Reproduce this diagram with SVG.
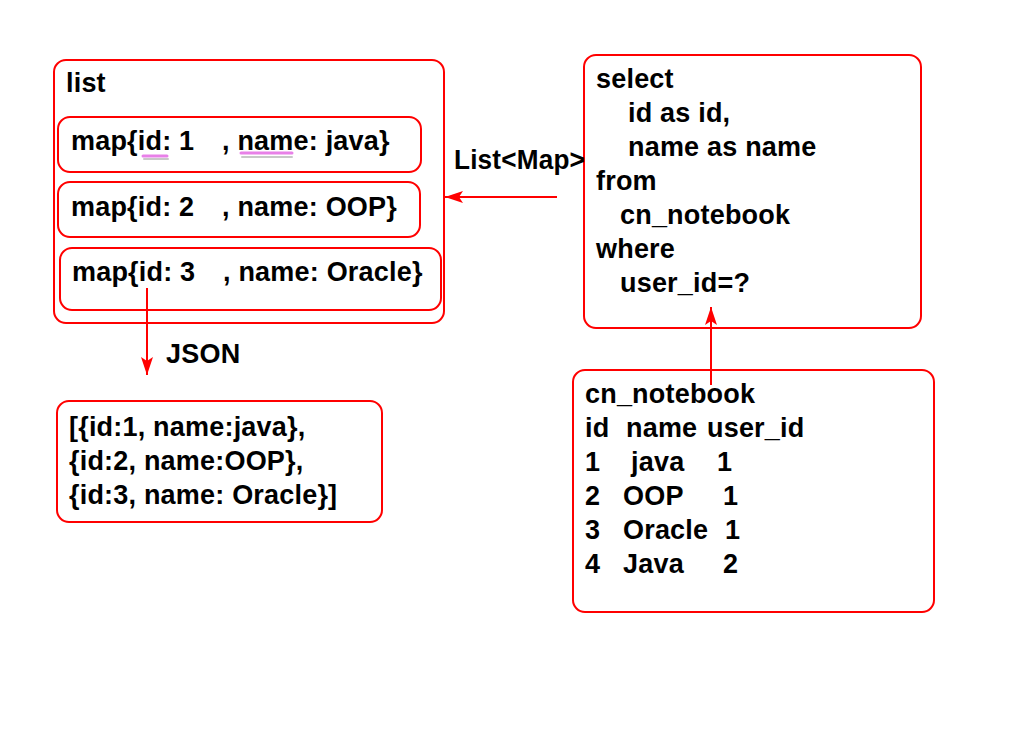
<svg xmlns="http://www.w3.org/2000/svg" width="1024" height="738" viewBox="0 0 1024 738">
<defs>
<style>
.box{fill:none;stroke:#ff0000;stroke-width:2}
.t{font-family:"Liberation Sans",Arial,sans-serif;font-weight:bold;font-size:27px;letter-spacing:0.2px;fill:#000}
.c{stroke:#ff0000;stroke-width:2;fill:none}
.ul{stroke:#e880e8;stroke-width:3;stroke-linecap:round;fill:none}
.uls{stroke:#c8c8c8;stroke-width:2;stroke-linecap:round;fill:none}
</style>
<marker id="ah" viewBox="0 0 18 12" refX="18" refY="6" markerWidth="18" markerHeight="12" markerUnits="userSpaceOnUse" orient="auto">
<path d="M0,0 L18,6 L0,12 L4,6 Z" fill="#ff0000"/>
</marker>
</defs>
<rect width="1024" height="738" fill="#ffffff"/>

<g id="list">
<rect class="box" x="54" y="60" width="390" height="263" rx="12"/>
<text class="t" x="66" y="92">list</text>
</g>

<g id="map1">
<rect class="box" x="58" y="117" width="363" height="55" rx="12"/>
<line class="uls" x1="144" y1="159" x2="168" y2="159"/>
<line class="uls" x1="242" y1="157" x2="292" y2="157"/>
<line class="ul" x1="143" y1="156" x2="167" y2="156"/>
<line class="ul" x1="241" y1="153" x2="292" y2="153"/>
<text class="t" x="71" y="150">map{id: 1</text>
<text class="t" x="222" y="150">, name: java}</text>
</g>

<g id="map2">
<rect class="box" x="58" y="182" width="362" height="55" rx="12"/>
<text class="t" x="71" y="216">map{id: 2</text>
<text class="t" x="222" y="216">, name: OOP}</text>
</g>

<g id="map3">
<rect class="box" x="60" y="248" width="381" height="62" rx="12"/>
<text class="t" x="72" y="281">map{id: 3</text>
<text class="t" x="223" y="281">, name: Oracle}</text>
</g>

<g id="json">
<rect class="box" x="57" y="401" width="325" height="121" rx="12"/>
<text class="t" x="69" y="436">[{id:1, name:java},</text>
<text class="t" x="69" y="470">{id:2, name:OOP},</text>
<text class="t" x="69" y="504">{id:3, name: Oracle}]</text>
</g>

<g id="sql">
<rect class="box" x="584" y="55" width="337" height="273" rx="12"/>
<text class="t" x="596" y="88">select</text>
<text class="t" x="628" y="122">id as id,</text>
<text class="t" x="628" y="156">name as name</text>
<text class="t" x="596" y="190">from</text>
<text class="t" x="620" y="224">cn_notebook</text>
<text class="t" x="596" y="258">where</text>
<text class="t" x="620" y="292">user_id=?</text>
</g>

<g id="table">
<rect class="box" x="573" y="370" width="361" height="242" rx="12"/>
<text class="t" x="585" y="403">cn_notebook</text>
<text class="t" x="585" y="437">id</text>
<text class="t" x="626" y="437">name</text>
<text class="t" x="707" y="437">user_id</text>
<text class="t" x="585" y="471">1</text>
<text class="t" x="631" y="471">java</text>
<text class="t" x="717" y="471">1</text>
<text class="t" x="585" y="505">2</text>
<text class="t" x="623" y="505">OOP</text>
<text class="t" x="723" y="505">1</text>
<text class="t" x="585" y="539">3</text>
<text class="t" x="623" y="539">Oracle</text>
<text class="t" x="725" y="539">1</text>
<text class="t" x="585" y="573">4</text>
<text class="t" x="623" y="573">Java</text>
<text class="t" x="723" y="573">2</text>
</g>

<g id="connectors">
<line class="c" x1="557" y1="197" x2="445" y2="197" marker-end="url(#ah)"/>
<text class="t" x="454" y="169" textLength="131" lengthAdjust="spacingAndGlyphs">List&lt;Map&gt;</text>
<line class="c" x1="147" y1="288" x2="147" y2="375" marker-end="url(#ah)"/>
<text class="t" x="166" y="363">JSON</text>
<line class="c" x1="711" y1="385" x2="711" y2="307" marker-end="url(#ah)"/>
</g>
</svg>
